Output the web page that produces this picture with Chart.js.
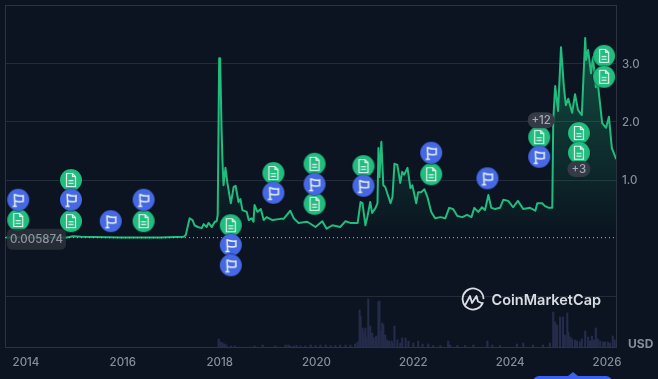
<!DOCTYPE html>
<html>
<head>
<meta charset="utf-8">
<title>CoinMarketCap price chart</title>
<script src="https://cdn.jsdelivr.net/npm/chart.js@4"></script>
<style>
  html, body { margin: 0; background: #0b1420; overflow: hidden; }
  canvas { display: block; }
</style>
</head>
<body>
<canvas id="chart" width="658" height="379"></canvas>
<script>
const priceYears = [
  2013.59, 2014.85, 2014.97, 2015.13, 2015.96, 2016.78, 2017.26, 2017.30, 2017.38, 2017.44,
  2017.48, 2017.55, 2017.63, 2017.67, 2017.73, 2017.77, 2017.84, 2017.90, 2017.94, 2017.96,
  2017.99, 2018.01, 2018.04, 2018.06, 2018.08, 2018.12, 2018.16, 2018.23, 2018.27, 2018.29,
  2018.33, 2018.39, 2018.43, 2018.47, 2018.56, 2018.60, 2018.66, 2018.70, 2018.72, 2018.78,
  2018.85, 2018.91, 2018.97, 2019.09, 2019.26, 2019.32, 2019.46, 2019.53, 2019.63, 2019.81,
  2019.98, 2020.12, 2020.21, 2020.33, 2020.49, 2020.60, 2020.70, 2020.85, 2020.91, 2020.95,
  2021.01, 2021.05, 2021.11, 2021.15, 2021.22, 2021.26, 2021.28, 2021.30, 2021.34, 2021.38,
  2021.42, 2021.53, 2021.57, 2021.61, 2021.67, 2021.73, 2021.77, 2021.81, 2021.88, 2021.94,
  2021.98, 2022.06, 2022.10, 2022.16, 2022.23, 2022.29, 2022.37, 2022.45, 2022.56, 2022.66,
  2022.74, 2022.82, 2022.91, 2023.01, 2023.11, 2023.20, 2023.26, 2023.34, 2023.42, 2023.48,
  2023.55, 2023.61, 2023.69, 2023.79, 2023.86, 2023.96, 2024.06, 2024.16, 2024.27, 2024.41,
  2024.52, 2024.56, 2024.66, 2024.72, 2024.80, 2024.87, 2024.89, 2024.93, 2024.99, 2025.05,
  2025.11, 2025.15, 2025.20, 2025.28, 2025.34, 2025.40, 2025.48, 2025.55, 2025.57, 2025.61,
  2025.67, 2025.71, 2025.77, 2025.81, 2025.90, 2025.98, 2026.04, 2026.10, 2026.19
];
const priceValues = [
  0.01, 0.01, 0.03, 0.02, 0.01, 0.01, 0.02, 0.05, 0.34, 0.31,
  0.22, 0.19, 0.17, 0.24, 0.19, 0.26, 0.19, 0.28, 0.29, 0.40,
  3.10, 3.10, 1.86, 1.29, 0.91, 1.21, 0.95, 0.60, 0.78, 0.88,
  0.90, 0.62, 0.67, 0.48, 0.45, 0.31, 0.34, 0.28, 0.57, 0.45,
  0.50, 0.31, 0.36, 0.31, 0.33, 0.33, 0.47, 0.34, 0.26, 0.28,
  0.19, 0.29, 0.16, 0.22, 0.19, 0.29, 0.26, 0.26, 0.62, 0.60,
  0.22, 0.36, 0.62, 0.43, 0.52, 0.60, 1.55, 1.05, 1.66, 0.91,
  0.88, 0.60, 0.71, 1.28, 1.26, 0.95, 1.14, 1.09, 1.21, 0.86,
  0.91, 0.60, 0.79, 0.79, 0.84, 0.71, 0.45, 0.34, 0.36, 0.34,
  0.52, 0.50, 0.38, 0.36, 0.40, 0.36, 0.52, 0.45, 0.53, 0.48,
  0.74, 0.52, 0.50, 0.52, 0.66, 0.64, 0.53, 0.64, 0.50, 0.52,
  0.47, 0.60, 0.60, 0.55, 0.52, 0.52, 2.03, 2.62, 2.19, 3.29,
  2.60, 2.29, 2.40, 2.16, 2.48, 2.21, 2.12, 3.45, 3.07, 3.24,
  2.84, 3.12, 2.60, 2.67, 1.98, 1.90, 2.09, 1.55, 1.36
];

const volumeYears = [
  2017.98, 2018.02, 2018.06, 2018.10, 2018.14, 2018.23, 2018.31, 2018.72, 2018.89, 2019.15,
  2019.36, 2019.42, 2019.46, 2019.53, 2019.59, 2019.67, 2019.77, 2019.88, 2019.98, 2020.08,
  2020.19, 2020.29, 2020.39, 2020.49, 2020.60, 2020.70, 2020.80, 2020.85, 2020.89, 2020.91,
  2020.95, 2020.97, 2021.01, 2021.03, 2021.07, 2021.11, 2021.15, 2021.18, 2021.22, 2021.24,
  2021.28, 2021.30, 2021.34, 2021.36, 2021.38, 2021.42, 2021.46, 2021.50, 2021.55, 2021.57,
  2021.61, 2021.67, 2021.73, 2021.77, 2021.84, 2021.90, 2022.00, 2022.10, 2022.19, 2022.31,
  2022.41, 2022.56, 2022.72, 2022.76, 2022.91, 2023.07, 2023.24, 2023.53, 2023.63, 2023.79,
  2024.14, 2024.27, 2024.47, 2024.68, 2024.82, 2024.89, 2024.93, 2024.97, 2025.03, 2025.09,
  2025.13, 2025.18, 2025.20, 2025.24, 2025.28, 2025.34, 2025.38, 2025.44, 2025.48, 2025.55,
  2025.61, 2025.65, 2025.69, 2025.73, 2025.77, 2025.81, 2025.86, 2025.92, 2025.96, 2026.02,
  2026.06, 2026.12, 2026.16
];
const volumeValues = [
  8, 5, 4, 3, 2, 1, 1, 1, 2, 1,
  2, 2, 1, 1, 1.5, 1, 1, 2, 1.5, 2,
  2, 1.5, 1.5, 2, 2, 2, 3, 5, 37, 31,
  19, 14, 19, 10, 48, 21, 14, 9, 10, 11,
  45, 46, 16, 24, 22, 12, 7, 6, 6, 4,
  21, 7, 4, 9, 9, 6, 4, 6, 3, 3,
  1.5, 1.5, 6, 2, 1.5, 1.5, 2, 6, 2, 1.5,
  3, 4, 2, 2, 4, 35, 25, 22, 30, 30,
  12, 34, 15, 10, 8, 7, 6, 5, 8, 16,
  10, 6, 11, 7, 19, 8, 6, 5, 5, 5,
  4, 11, 7
];

const docYears = [2013.84, 2014.93, 2014.93, 2016.43, 2018.23, 2019.11, 2019.96, 2019.96, 2020.97, 2022.37, 2024.60, 2025.42, 2025.42, 2025.94, 2025.94];
const docValues = [0.31, 1.00, 0.29, 0.29, 0.22, 1.12, 1.28, 0.59, 1.24, 1.10, 1.74, 1.81, 1.47, 3.14, 2.78];
const flagYears = [2013.84, 2014.93, 2015.75, 2016.43, 2018.23, 2018.23, 2019.11, 2019.96, 2020.97, 2022.37, 2023.53, 2024.60];
const flagValues = [0.66, 0.66, 0.29, 0.66, -0.12, -0.47, 0.78, 0.93, 0.90, 1.47, 1.03, 1.40];
const badgeYears = [2024.64, 2025.42];
const badgeValues = [2.03, 1.19];
const badgeLabels = ["+12", "+3"];

const baselineValue = 0.005874;
const xTicks = [2014, 2016, 2018, 2020, 2022, 2024, 2026];
const yTicks = [-1, 1, 2, 3];
const xMin = 2013.567, xMax = 2026.186;
const yMin = -1.879, yMax = 4.017;

const GREEN = "#20bd7e";
const BLUE = "#4668e4";
const TICK_COLOR = "#858e9c";
const FRAME_COLOR = "#2a333f";

const zip = (xs, ys) => xs.map((x, i) => ({ x, y: ys[i] }));

// marker icons, drawn once and used as point styles
const makeMarker = (color, drawIcon) => {
  const c = document.createElement("canvas");
  c.width = 24;
  c.height = 24;
  const g = c.getContext("2d");
  g.translate(12, 12);
  g.beginPath();
  g.arc(0, 0, 11.8, 0, Math.PI * 2);
  g.fillStyle = "rgba(10,20,31,0.5)";
  g.fill();
  g.beginPath();
  g.arc(0, 0, 11, 0, Math.PI * 2);
  g.fillStyle = color;
  g.fill();
  g.strokeStyle = "#e6f3ee";
  g.fillStyle = "#e6f3ee";
  g.lineWidth = 1.2;
  drawIcon(g);
  return c;
};

const docIcon = makeMarker(GREEN, (g) => {
  g.beginPath();
  g.moveTo(-4.5, -6.5);
  g.lineTo(1.5, -6.5);
  g.lineTo(4.5, -3.5);
  g.lineTo(4.5, 6.5);
  g.lineTo(-4.5, 6.5);
  g.closePath();
  g.moveTo(1.5, -6.5);
  g.lineTo(1.5, -3.5);
  g.lineTo(4.5, -3.5);
  g.stroke();
  g.fillRect(-2.5, 0, 5, 1.2);
  g.fillRect(-2.5, 2.8, 5, 1.2);
});

const flagIcon = makeMarker(BLUE, (g) => {
  g.lineWidth = 1.5;
  g.beginPath();
  g.moveTo(-3.8, -5.8);
  g.lineTo(-3.3, 6.2);
  g.moveTo(-5.5, 6.4);
  g.lineTo(-1.3, 6.4);
  g.moveTo(-3.8, -5.2);
  g.quadraticCurveTo(0.5, -3.2, 5, -4);
  g.lineTo(5, 1.6);
  g.quadraticCurveTo(0.5, 2.4, -3.5, 1);
  g.stroke();
});

const roundBox = (ctx, x, y, w, h, r, fill) => {
  ctx.beginPath();
  ctx.roundRect(x, y, w, h, r);
  ctx.fillStyle = fill;
  ctx.fill();
};

// frame, baseline chip, +N badges, logo and the bits outside the plot
const extras = {
  id: "extras",
  beforeDatasetsDraw(chart) {
    const { ctx, chartArea: a } = chart;
    ctx.save();
    ctx.strokeStyle = FRAME_COLOR;
    ctx.lineWidth = 1;
    ctx.strokeRect(a.left + 0.5, a.top + 0.5, a.width, a.height);
    ctx.restore();
  },
  afterDatasetsDraw(chart) {
    const { ctx, scales } = chart;
    ctx.save();
    ctx.textAlign = "center";
    ctx.textBaseline = "middle";

    badgeLabels.forEach((label, i) => {
      const px = scales.x.getPixelForValue(badgeYears[i]);
      const py = scales.y.getPixelForValue(badgeValues[i]);
      const w = label.length > 2 ? 27 : 23;
      roundBox(ctx, px - w / 2, py - 8, w, 16, 8, "#353a47");
      ctx.fillStyle = "#a3a8b3";
      ctx.font = "500 11.5px Inter";
      ctx.fillText(label, px, py + 0.5);
    });

    // last-low chip on the baseline
    const chipY = scales.y.getPixelForValue(baselineValue);
    roundBox(ctx, 7, chipY - 9, 59, 21, 5, "rgba(44,49,60,0.85)");
    ctx.fillStyle = "#8f95a1";
    ctx.font = "500 11.5px Inter";
    ctx.fillText(baselineValue.toString(), 36.5, chipY + 2);

    // CoinMarketCap mark
    ctx.strokeStyle = "#d9dde3";
    ctx.lineWidth = 1.8;
    ctx.lineCap = "round";
    ctx.lineJoin = "round";
    ctx.beginPath();
    ctx.arc(473, 299, 10.5, 0.12 * Math.PI, 1.98 * Math.PI);
    ctx.stroke();
    ctx.beginPath();
    ctx.moveTo(465.5, 304.5);
    ctx.lineTo(470, 296);
    ctx.lineTo(472, 303);
    ctx.lineTo(476.5, 296);
    ctx.lineTo(478, 301.5);
    ctx.lineTo(481.5, 303);
    ctx.stroke();
    ctx.textAlign = "left";
    ctx.fillStyle = "#d9dde3";
    ctx.font = "600 14.5px Inter";
    ctx.fillText("CoinMarketCap", 491.5, 300.5);

    ctx.fillStyle = TICK_COLOR;
    ctx.font = "700 12px Inter";
    ctx.fillText("USD", 628, 344.5);

    // blue button peeking in at the bottom
    ctx.fillStyle = "#3a62ee";
    ctx.beginPath();
    ctx.roundRect(533, 376, 79, 12, 6);
    ctx.moveTo(568, 376);
    ctx.lineTo(573, 372);
    ctx.lineTo(578, 376);
    ctx.fill();
    ctx.restore();
  },
};

const priceFill = (context) => {
  const { ctx, chartArea, scales } = context.chart;
  if (!chartArea) return "transparent";
  const g = ctx.createLinearGradient(0, scales.y.getPixelForValue(3.5), 0, scales.y.getPixelForValue(baselineValue));
  g.addColorStop(0, "rgba(32,189,126,0.36)");
  g.addColorStop(1, "rgba(32,189,126,0)");
  return g;
};

new Chart(document.getElementById("chart"), {
  type: "line",
  plugins: [extras],
  data: {
    datasets: [
      {
        data: zip(flagYears, flagValues),
        showLine: false,
        pointStyle: flagIcon,
        clip: false,
        order: 1,
      },
      {
        data: zip(docYears, docValues),
        showLine: false,
        pointStyle: docIcon,
        clip: false,
        order: 2,
      },
      {
        data: zip([xMin, xMax], [baselineValue, baselineValue]),
        borderColor: "#aeb4bc",
        borderWidth: 1,
        borderDash: [1, 3],
        pointRadius: 0,
        order: 3,
      },
      {
        data: zip(priceYears, priceValues),
        borderColor: GREEN,
        borderWidth: 2,
        borderJoinStyle: "round",
        pointRadius: 0,
        tension: 0,
        fill: { value: baselineValue },
        backgroundColor: priceFill,
        order: 4,
      },
      {
        type: "bar",
        yAxisID: "yVolume",
        data: zip(volumeYears, volumeValues),
        backgroundColor: "#252b4a",
        barThickness: 1.5,
        order: 5,
      },
    ],
  },
  options: {
    responsive: false,
    animation: false,
    layout: { padding: { left: 4, top: 5, right: 0, bottom: 0 } },
    plugins: { legend: { display: false }, tooltip: { enabled: false } },
    scales: {
      x: {
        type: "linear",
        min: xMin,
        max: xMax,
        offset: false,
        grid: { display: false, drawTicks: false },
        border: { display: false },
        afterBuildTicks: (axis) => { axis.ticks = xTicks.map((value) => ({ value })); },
        afterFit: (axis) => { axis.height = 32; axis.paddingLeft = 0; axis.paddingRight = 0; },
        ticks: {
          color: TICK_COLOR,
          font: { family: "Inter", size: 11.5, weight: "500" },
          padding: 9,
          maxRotation: 0,
          autoSkip: false,
          callback: (v) => String(v),
        },
      },
      y: {
        position: "right",
        min: yMin,
        max: yMax,
        grid: { color: "#232c38", drawTicks: false },
        border: { display: false },
        afterBuildTicks: (axis) => { axis.ticks = yTicks.map((value) => ({ value })); },
        afterFit: (axis) => { axis.width = 42; axis.paddingTop = 0; axis.paddingBottom = 0; },
        ticks: {
          color: TICK_COLOR,
          font: { family: "Inter", size: 11.5, weight: "500" },
          padding: 6,
          labelOffset: 1,
          autoSkip: false,
          callback: (v) => (v > 0 ? v.toFixed(1) : ""),
        },
      },
      yVolume: {
        display: false,
        min: 0,
        max: 342,
      },
    },
  },
});
</script>
</body>
</html>
